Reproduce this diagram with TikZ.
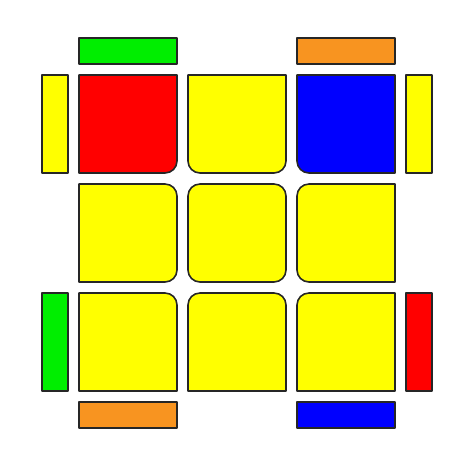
\documentclass[tikz,border=0pt]{standalone}
\usepackage{tikz}

\definecolor{cubered}{RGB}{255,0,0}
\definecolor{cubeyellow}{RGB}{255,255,0}
\definecolor{cubeblue}{RGB}{0,0,255}
\definecolor{cubegreen}{RGB}{0,238,0}
\definecolor{cubeorange}{RGB}{248,148,32}

\tikzset{sticker/.style={draw=black!85, line width=0.9pt, line join=round}}

% facelet: top-left x, y, colour, radii TL TR BR BL
\newcommand{\facelet}[7]{%
  \filldraw[sticker, fill=#3] ({#1+#4},#2) -- ({#1+98-#5},#2)
    arc[start angle=270, end angle=360, radius=#5] -- ({#1+98},{#2+98-#6})
    arc[start angle=0, end angle=90, radius=#6] -- ({#1+#7},{#2+98})
    arc[start angle=90, end angle=180, radius=#7] -- (#1,{#2+#4})
    arc[start angle=180, end angle=270, radius=#4] -- cycle;}

\begin{document}
\begin{tikzpicture}[x=0.02cm, y=-0.02cm]
  \useasboundingbox (0,0) rectangle (474,474);

  % Top face
  \facelet{79}{75}{cubered}{0}{0}{12}{0}
  \facelet{188}{75}{cubeyellow}{0}{0}{12}{12}
  \facelet{297}{75}{cubeblue}{0}{0}{0}{12}
  \facelet{79}{184}{cubeyellow}{0}{12}{12}{0}
  \facelet{188}{184}{cubeyellow}{12}{12}{12}{12}
  \facelet{297}{184}{cubeyellow}{12}{0}{0}{12}
  \facelet{79}{293}{cubeyellow}{0}{12}{0}{0}
  \facelet{188}{293}{cubeyellow}{12}{12}{0}{0}
  \facelet{297}{293}{cubeyellow}{12}{0}{0}{0}

  % Side stickers
  \filldraw[sticker, fill=cubegreen] (79,38) rectangle (177,64);
  \filldraw[sticker, fill=cubeorange] (297,38) rectangle (395,64);
  \filldraw[sticker, fill=cubeyellow] (42,75) rectangle (68,173);
  \filldraw[sticker, fill=cubegreen] (42,293) rectangle (68,391);
  \filldraw[sticker, fill=cubeyellow] (406,75) rectangle (432,173);
  \filldraw[sticker, fill=cubered] (406,293) rectangle (432,391);
  \filldraw[sticker, fill=cubeorange] (79,402) rectangle (177,428);
  \filldraw[sticker, fill=cubeblue] (297,402) rectangle (395,428);
\end{tikzpicture}
\end{document}
